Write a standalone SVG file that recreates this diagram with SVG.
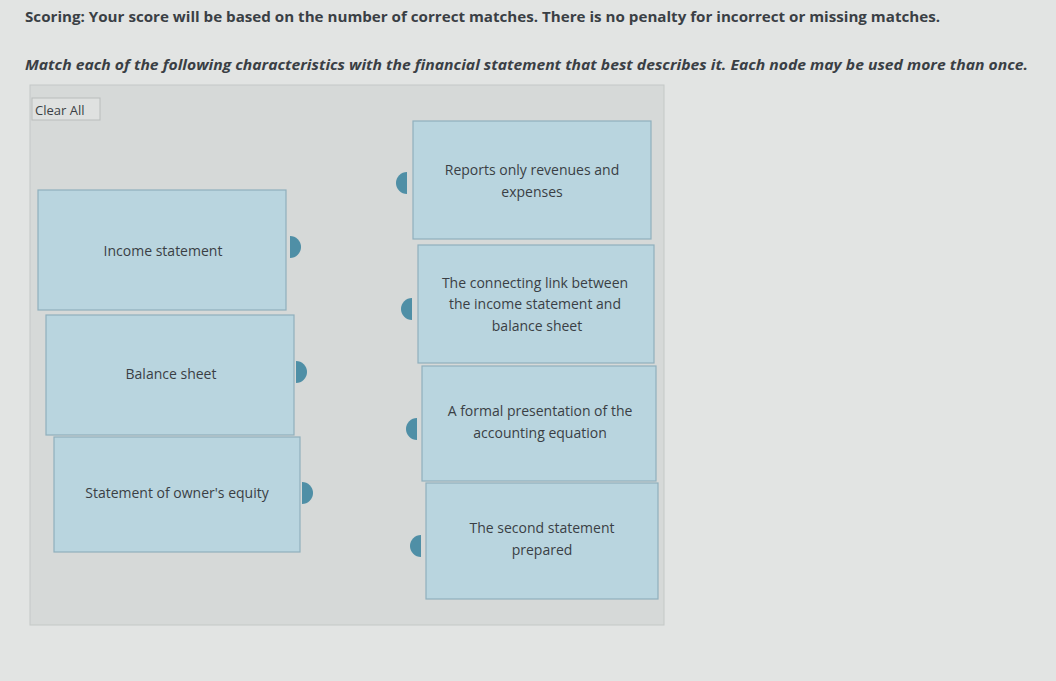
<svg xmlns="http://www.w3.org/2000/svg" width="1056" height="681" viewBox="0 0 1056 681">
<style>
text{font-family:"Open Sans","DejaVu Sans",sans-serif;fill:#3a3f45}
.h{font-size:13.5px;font-weight:bold}
.b{fill:#b9d5df;stroke:#8fb0bd;stroke-width:1.2}
.t{font-size:14px;text-anchor:middle}
.n{fill:#4f8fa6}
</style>
<rect width="1056" height="681" fill="#e2e4e3"/>
<text class="h" x="25" y="22" textLength="915" lengthAdjust="spacingAndGlyphs">Scoring: Your score will be based on the number of correct matches. There is no penalty for incorrect or missing matches.</text>
<text class="h" x="25" y="70" font-style="italic" textLength="1003" lengthAdjust="spacingAndGlyphs">Match each of the following characteristics with the financial statement that best describes it. Each node may be used more than once.</text>
<rect x="30" y="85" width="634" height="540" fill="#d6d9d8" stroke="#c4c8c7"/>
<rect x="32" y="98" width="68" height="22" fill="#dfe1e0" stroke="#b9bdbc"/>
<text x="35" y="115" font-size="13">Clear All</text>
<g id="n1"><rect class="b" x="38" y="190" width="248" height="120"/><text class="t" x="163" y="256">Income statement</text><path class="n" d="M290 236a10 10 0 0 1 0 22z"/></g>
<g id="n2"><rect class="b" x="46" y="315" width="248" height="120"/><text class="t" x="171" y="379">Balance sheet</text><path class="n" d="M296 361a10 10 0 0 1 0 22z"/></g>
<g id="n3"><rect class="b" x="54" y="437" width="246" height="115"/><text class="t" x="177" y="498">Statement of owner's equity</text><path class="n" d="M302 482a10 10 0 0 1 0 22z"/></g>
<g id="r1"><rect class="b" x="413" y="121" width="238" height="118"/><text class="t" x="532" y="175">Reports only revenues and</text><text class="t" x="532" y="197">expenses</text><path class="n" d="M407 172a10 10 0 0 0 0 22z"/></g>
<g id="r2"><rect class="b" x="418" y="245" width="236" height="118"/><text class="t" x="535" y="288">The connecting link between</text><text class="t" x="535" y="309">the income statement and</text><text class="t" x="537" y="331">balance sheet</text><path class="n" d="M412 298a10 10 0 0 0 0 22z"/></g>
<g id="r3"><rect class="b" x="422" y="366" width="234" height="115"/><text class="t" x="540" y="416">A formal presentation of the</text><text class="t" x="540" y="438">accounting equation</text><path class="n" d="M417 418a10 10 0 0 0 0 22z"/></g>
<g id="r4"><rect class="b" x="426" y="483" width="232" height="116"/><text class="t" x="542" y="533">The second statement</text><text class="t" x="542" y="555">prepared</text><path class="n" d="M421 535a10 10 0 0 0 0 22z"/></g>
<g id="connectors"></g>
</svg>
